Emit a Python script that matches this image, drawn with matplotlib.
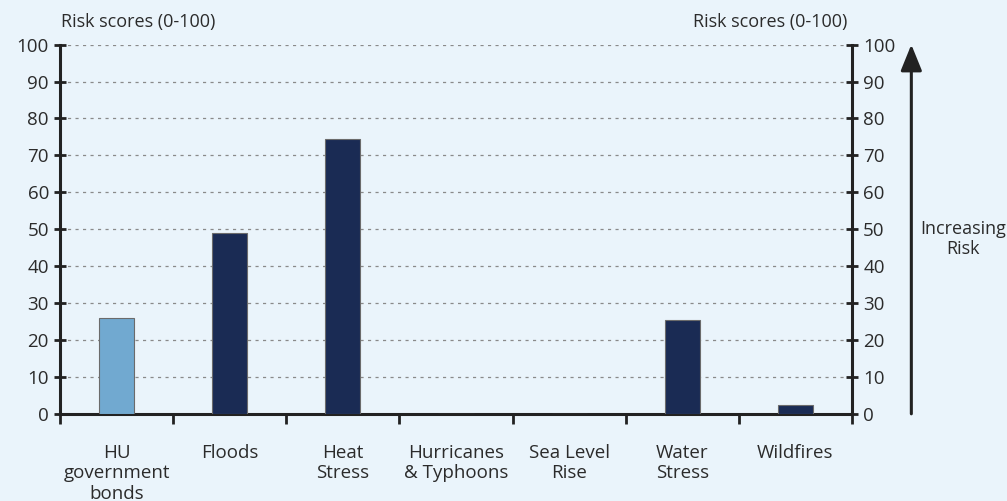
import numpy as np
import matplotlib.pyplot as plt
from matplotlib.ticker import FixedLocator, NullFormatter

plt.rcParams['font.family'] = ['Open Sans', 'DejaVu Sans']

categories = ["HU\ngovernment\nbonds", "Floods", "Heat\nStress", "Hurricanes\n& Typhoons",
              "Sea Level\nRise", "Water\nStress", "Wildfires"]
scores = [26, 49, 74.5, 0, 0, 25.5, 2.5]
yticks = list(range(0, 101, 10))

BG = "#EAF4FB"
DARK = "#1A2B54"
LIGHT = "#71A9D0"
TXT = "#2B2B2B"

fig = plt.figure(figsize=(10.07, 5.01), dpi=100, facecolor=BG)
ax = fig.add_axes([0.0596, 0.174, 0.7865, 0.737])
ax.set_facecolor(BG)

x = np.arange(len(categories))
colors = [LIGHT] + [DARK] * (len(categories) - 1)
ax.bar(x, scores, width=0.31, color=colors, edgecolor="#6b6b6b", linewidth=0.8, zorder=3)

ax.set_xlim(-0.5, len(categories) - 0.5)
ax.set_ylim(0, 100)

# dashed grid lines
for v in yticks[1:]:
    ax.axhline(v, color="#8a8a8a", linestyle=(0, (2.5, 3.5)), linewidth=0.9, zorder=1)

ax.spines["top"].set_visible(False)
for side in ["left", "right", "bottom"]:
    ax.spines[side].set_linewidth(2.2)
    ax.spines[side].set_color("#222222")

ax.set_yticks(yticks)
ax.tick_params(axis="y", left=True, right=True, labelleft=True, labelright=True,
               length=6, width=2, color="#222222", labelsize=13.5, labelcolor=TXT,
               direction="out", pad=4)
ax.tick_params(axis="y", right=True, direction="inout", length=8)

# category labels centred, tick marks at the boundaries
ax.xaxis.set_major_locator(FixedLocator(x))
ax.set_xticklabels(categories, fontsize=13.5, color=TXT, linespacing=1.15, va="top")
ax.tick_params(axis="x", which="major", length=0, pad=22)
ax.xaxis.set_minor_locator(FixedLocator(np.arange(-0.5, len(categories), 1.0)))
ax.xaxis.set_minor_formatter(NullFormatter())
ax.tick_params(axis="x", which="minor", length=7, width=2, color="#222222", direction="out")

fig.text(0.061, 0.957, "Risk scores (0-100)", fontsize=13, color=TXT, ha="left", va="center")
fig.text(0.688, 0.957, "Risk scores (0-100)", fontsize=13, color=TXT, ha="left", va="center")

# increasing risk arrow on the right
ax.annotate("", xy=(0.905, 0.911), xycoords="figure fraction",
            xytext=(0.905, 0.174), textcoords="figure fraction",
            arrowprops=dict(arrowstyle="-|>,head_length=1.6,head_width=0.65",
                            color="#222222", lw=2.2, shrinkA=0, shrinkB=0))
fig.text(0.956, 0.523, "Increasing\nRisk", fontsize=13, color=TXT, ha="center",
         va="center", linespacing=1.1)

fig.savefig("out.png", dpi=100, facecolor=BG)
